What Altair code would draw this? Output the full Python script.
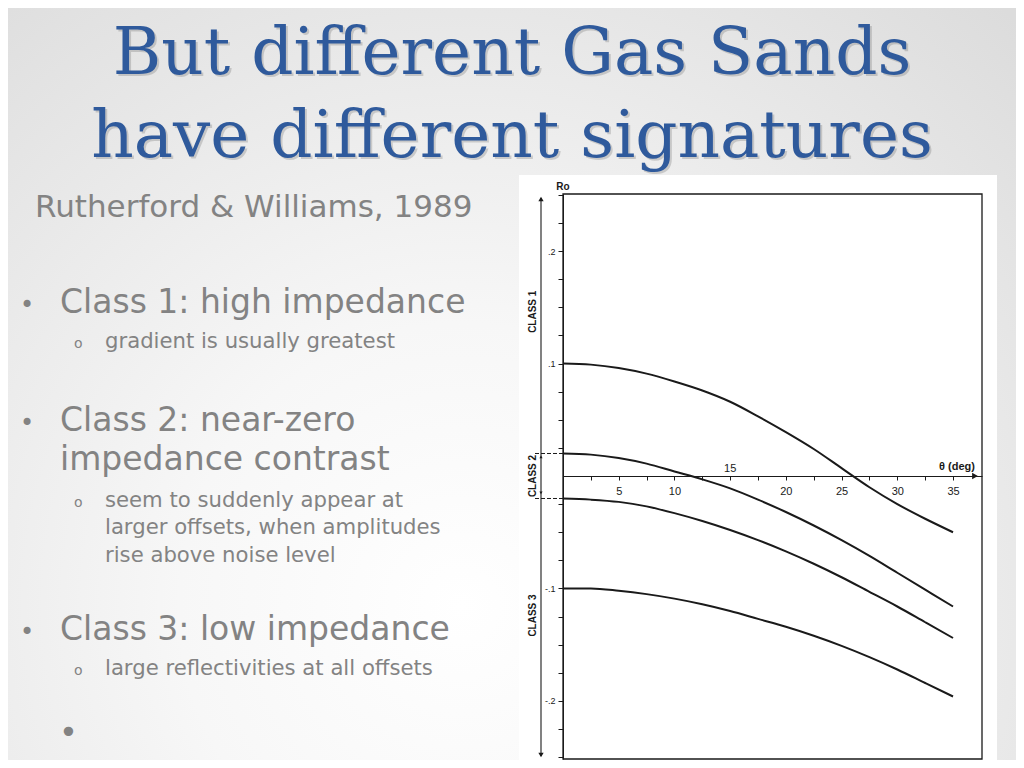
import altair as alt
import pandas as pd

# ---------------- data ----------------
theta_deg = [0, 2.5, 5, 7.5, 10, 12.5, 15, 17.5, 20, 22.5, 25, 27.5, 30, 32.5, 35]
class1_r = [0.100, 0.099, 0.096, 0.091, 0.084, 0.076, 0.066, 0.053, 0.039, 0.024, 0.007, -0.010, -0.025, -0.038, -0.050]
class2_pos_r = [0.020, 0.019, 0.016, 0.011, 0.004, -0.003, -0.011, -0.021, -0.032, -0.044, -0.057, -0.071, -0.086, -0.101, -0.116]
class2_neg_r = [-0.020, -0.021, -0.023, -0.027, -0.033, -0.040, -0.048, -0.057, -0.067, -0.078, -0.090, -0.103, -0.116, -0.130, -0.144]
class3_r = [-0.100, -0.100, -0.102, -0.105, -0.109, -0.114, -0.120, -0.127, -0.134, -0.142, -0.151, -0.161, -0.172, -0.184, -0.196]
curve_names = ["Class 1", "Class 2 (+)", "Class 2 (-)", "Class 3"]

x_tick_values = [2.5, 5, 7.5, 10, 12.5, 15, 17.5, 20, 22.5, 25, 27.5, 30, 32.5, 35]
x_labels_below = [5, 10, 20, 25, 30, 35]
x_label_above = 15
y_tick_values = [-0.25, -0.225, -0.2, -0.175, -0.15, -0.125, -0.1, -0.075, -0.05, -0.025,
                 0.025, 0.05, 0.075, 0.1, 0.125, 0.15, 0.175, 0.2, 0.225, 0.25]
y_label_text = {0.2: ".2", 0.1: ".1", -0.1: "-.1", -0.2: "-.2"}

class_names = ["CLASS 1", "CLASS 2", "CLASS 3"]
class_label_r = [0.146, 0.0, -0.124]
class2_bounds = [0.02, -0.02]
class2_arrow_r = [0.017, -0.015]

title_lines = ["But different Gas Sands", "have different signatures"]
subtitle = "Rutherford & Williams, 1989"
bullet_1 = "Class 1: high impedance"
sub_1 = "gradient is usually greatest"
bullet_2 = ["Class 2: near-zero", "impedance contrast"]
sub_2 = ["seem to suddenly appear at", "larger offsets, when amplitudes", "rise above noise level"]
bullet_3 = "Class 3: low impedance"
sub_3 = "large reflectivities at all offsets"
y_axis_name = "Ro"
x_axis_name = "\u03b8 (deg)"

# ---------------- layout ----------------
OX, OY = 563, 194          # page position of plot origin
W, H = 419, 565
X_DOM = [0, 37.6]
Y_DOM = [-0.25156, 0.25067]
ZERO_PX = 282

rows = []
for name, vals in zip(curve_names, [class1_r, class2_pos_r, class2_neg_r, class3_r]):
    for t, r in zip(theta_deg, vals):
        rows.append({"theta": t, "r": r, "curve": name})
curves = pd.DataFrame(rows)
one = pd.DataFrame({"k": [0]})

INK = "#1a1a1a"
xs = alt.Scale(domain=X_DOM, nice=False, zero=False)
ys = alt.Scale(domain=Y_DOM, nice=False, zero=False)

x_expr = "indexof(" + str(x_labels_below) + ", datum.value) >= 0 ? datum.label : ''"
y_expr = "".join(f"datum.value == {k} ? '{v}' : " for k, v in y_label_text.items()) + "''"

x_axis = alt.Axis(values=x_tick_values, labelExpr=x_expr, offset=-(H - ZERO_PX), title=None, grid=False,
                  domainColor=INK, tickColor=INK, tickSize=4, labelPadding=5, labelFontSize=11,
                  labelFont="Liberation Sans", labelColor=INK, zindex=1)
y_axis = alt.Axis(values=y_tick_values, labelExpr=y_expr, title=None, grid=False,
                  domainColor=INK, tickColor=INK, tickSize=5, labelPadding=3, labelFontSize=9,
                  labelFont="Liberation Sans", labelColor=INK, zindex=1)
XE = lambda f: alt.X(f, type="quantitative", scale=xs, axis=x_axis)
YE = lambda f: alt.Y(f, type="quantitative", scale=ys, axis=y_axis)

BODY_FONT = "DejaVu Sans"
BODY_COL = "#838383"


def txt(s, x, y, size, color, font, align="left", weight="normal", opacity=1.0):
    return alt.Chart(one).mark_text(
        text=s, align=align, baseline="alphabetic", fontSize=size, font=font,
        color=color, fontWeight=weight, opacity=opacity
    ).encode(x=alt.value(x - OX), y=alt.value(y - OY))


def vrect(x1, x2, y1, y2, **kw):
    return alt.Chart(one).mark_rect(**kw).encode(
        x=alt.value(x1 - OX), x2=alt.value(x2 - OX),
        y=alt.value(y1 - OY), y2=alt.value(y2 - OY))


# background (slide gradient)
bg = vrect(8, 1016, 8, 760, fill=alt.RadialGradient(
    gradient="radial", x1=0.45, y1=0.72, x2=0.45, y2=0.72, r1=0, r2=0.8,
    stops=[alt.GradientStop(color="#ffffff", offset=0),
           alt.GradientStop(color="#f7f7f7", offset=0.35),
           alt.GradientStop(color="#dcdcdc", offset=1)]))
white = vrect(519, 997, 175, 760, fill="#ffffff")
frame = vrect(OX, OX + W, OY, OY + H, filled=False, stroke=INK, strokeWidth=1.3)

lines = alt.Chart(curves).mark_line(interpolate="monotone", color=INK, strokeWidth=2).encode(
    x=XE("theta"), y=YE("r"), detail="curve:N")

label15 = alt.Chart(pd.DataFrame({"theta": [x_label_above], "r": [0.0]})).mark_text(
    text=str(x_label_above), baseline="bottom", dy=-2, fontSize=11, font="Liberation Sans", color=INK
).encode(x=XE("theta"), y=YE("r"))

x_arrow = alt.Chart(one).mark_point(shape="triangle-right", filled=True, size=45, color=INK, opacity=1).encode(
    x=alt.value(975 - OX), y=alt.value(ZERO_PX))

# left "class" bracket line
left_rule = alt.Chart(one).mark_rule(color=INK, strokeWidth=1.1).encode(
    x=alt.value(541 - OX), y=alt.value(198 - OY), y2=alt.value(756 - OY))
arrow_top = alt.Chart(one).mark_point(shape="triangle-up", filled=True, size=28, color=INK, opacity=1).encode(
    x=alt.value(541 - OX), y=alt.value(199 - OY))
arrow_bot = alt.Chart(one).mark_point(shape="triangle-down", filled=True, size=28, color=INK, opacity=1).encode(
    x=alt.value(541 - OX), y=alt.value(755 - OY))
bounds = alt.Chart(pd.DataFrame({"r": class2_bounds})).mark_rule(color=INK, strokeWidth=1, strokeDash=[4, 2]).encode(
    x=alt.value(535 - OX), x2=alt.value(0), y=YE("r"))
c2_up = alt.Chart(pd.DataFrame({"r": class2_arrow_r[:1]})).mark_point(
    shape="triangle-up", filled=True, size=10, color=INK, opacity=1).encode(x=alt.value(541 - OX), y=YE("r"))
c2_dn = alt.Chart(pd.DataFrame({"r": class2_arrow_r[1:]})).mark_point(
    shape="triangle-down", filled=True, size=10, color=INK, opacity=1).encode(x=alt.value(541 - OX), y=YE("r"))
class_labels = alt.Chart(pd.DataFrame({"r": class_label_r, "name": class_names})).mark_text(
    angle=270, align="center", baseline="middle", fontSize=10, fontWeight="bold", font="Liberation Sans", color=INK
).encode(x=alt.value(533 - OX), y=YE("r"), text="name:N")

ro = txt(y_axis_name, 563, 190, 10, INK, "Liberation Sans", align="center", weight="bold")
thx = txt(x_axis_name, 939, 470, 11, INK, "Liberation Sans", weight="bold")

# slide text
TITLE_COL = "#2f5a9c"
TITLE_FONT = "DejaVu Serif"
TITLE_SIZE = 66
t_shadow = [txt(s, 514, y + 2, TITLE_SIZE, "#000000", TITLE_FONT, align="center", opacity=0.15)
            for s, y in zip(title_lines, [74, 157])]
t_main = [txt(s, 512, y, TITLE_SIZE, TITLE_COL, TITLE_FONT, align="center") for s, y in zip(title_lines, [74, 157])]

B, S = 33, 21.2
body = [
    txt(subtitle, 35, 217, 31, BODY_COL, BODY_FONT),
    txt("\u2022", 20, 313, 24, BODY_COL, BODY_FONT),
    txt(bullet_1, 60, 313, B, BODY_COL, BODY_FONT),
    txt("o", 74, 348, 14, BODY_COL, BODY_FONT),
    txt(sub_1, 105, 348, S, BODY_COL, BODY_FONT),
    txt("\u2022", 20, 431, 24, BODY_COL, BODY_FONT),
    txt(bullet_2[0], 60, 431, B, BODY_COL, BODY_FONT),
    txt(bullet_2[1], 60, 470, B, BODY_COL, BODY_FONT),
    txt("o", 74, 507, 14, BODY_COL, BODY_FONT),
    txt(sub_2[0], 105, 507, S, BODY_COL, BODY_FONT),
    txt(sub_2[1], 105, 534, S, BODY_COL, BODY_FONT),
    txt(sub_2[2], 105, 562, S, BODY_COL, BODY_FONT),
    txt("\u2022", 20, 640, 24, BODY_COL, BODY_FONT),
    txt(bullet_3, 60, 640, B, BODY_COL, BODY_FONT),
    txt("o", 74, 675, 14, BODY_COL, BODY_FONT),
    txt(sub_3, 105, 675, S, BODY_COL, BODY_FONT),
    txt("\u2022", 59, 743, 32, BODY_COL, BODY_FONT),
]

chart = alt.layer(
    bg, white, lines, frame, label15, x_arrow, left_rule, arrow_top, arrow_bot, bounds, c2_up, c2_dn,
    class_labels, ro, thx, *t_shadow, *t_main, *body
).properties(
    width=W, height=H,
    padding={"left": OX - 8, "top": OY - 8, "right": 1016 - OX - W, "bottom": 752 - (OY - 8) - H},
    autosize=alt.AutoSizeParams(type="none"),
).configure_view(strokeWidth=0)

chart.save("out.html", embed_options={"renderer": "svg", "actions": False})
